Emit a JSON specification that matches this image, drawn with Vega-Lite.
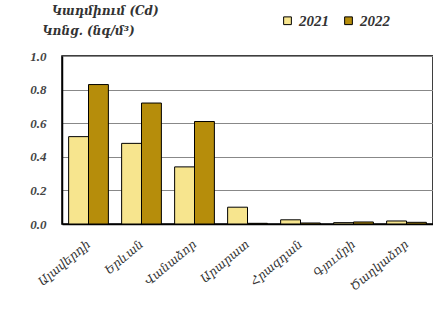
{
  "$schema": "https://vega.github.io/schema/vega-lite/v6.json",
  "width": 371,
  "height": 168,
  "autosize": "none",
  "padding": {"left": 62, "top": 56, "right": 0, "bottom": 85},
  "background": "white",
  "title": {
    "text": "Կադմիում (Cd)",
    "anchor": "start",
    "frame": "group",
    "dx": -10,
    "offset": -5,
    "font": "DejaVu Serif",
    "fontSize": 12,
    "fontStyle": "italic",
    "fontWeight": "bold",
    "color": "#333"
  },
  "data": {
    "values": [
      {"city": "Ալավերդի", "year": "2021", "value": 0.52},
      {"city": "Ալավերդի", "year": "2022", "value": 0.83},
      {"city": "Երևան", "year": "2021", "value": 0.48},
      {"city": "Երևան", "year": "2022", "value": 0.72},
      {"city": "Վանաձոր", "year": "2021", "value": 0.34},
      {"city": "Վանաձոր", "year": "2022", "value": 0.61},
      {"city": "Արարատ", "year": "2021", "value": 0.10},
      {"city": "Արարատ", "year": "2022", "value": 0.004},
      {"city": "Հրազդան", "year": "2021", "value": 0.025},
      {"city": "Հրազդան", "year": "2022", "value": 0.006},
      {"city": "Գյումրի", "year": "2021", "value": 0.008},
      {"city": "Գյումրի", "year": "2022", "value": 0.012},
      {"city": "Ծաղկաձոր", "year": "2021", "value": 0.018},
      {"city": "Ծաղկաձոր", "year": "2022", "value": 0.01}
    ]
  },
  "mark": {"type": "bar", "stroke": "black", "strokeWidth": 1},
  "encoding": {
    "x": {
      "field": "city",
      "type": "nominal",
      "sort": null,
      "scale": {"paddingInner": 0.25, "paddingOuter": 0.125},
      "axis": {
        "title": null,
        "labelAngle": -40,
        "labelAlign": "right",
        "labelBaseline": "middle",
        "labelPadding": 18,
        "labelFont": "DejaVu Serif",
        "labelFontSize": 12,
        "labelFontStyle": "italic",
        "labelColor": "#333",
        "ticks": false,
        "domainColor": "black",
        "domainWidth": 1.5
      }
    },
    "xOffset": {"field": "year", "type": "nominal"},
    "y": {
      "field": "value",
      "type": "quantitative",
      "scale": {"domain": [0, 1]},
      "axis": {
        "title": "Կոնց. (նգ/մ³)",
        "titleAngle": 0,
        "titleAlign": "left",
        "titleBaseline": "bottom",
        "titleX": -20,
        "titleY": -19,
        "titleFont": "DejaVu Serif",
        "titleFontSize": 12,
        "titleFontStyle": "italic",
        "titleFontWeight": "bold",
        "titleColor": "#333",
        "values": [0, 0.2, 0.4, 0.6, 0.8, 1.0],
        "format": ".1f",
        "labelFont": "Liberation Serif",
        "labelFontSize": 13,
        "labelFontStyle": "italic",
        "labelFontWeight": "bold",
        "labelColor": "#444",
        "labelPadding": 16,
        "ticks": false,
        "domainColor": "black",
        "domainWidth": 1.5,
        "grid": true,
        "gridColor": "#888",
        "gridWidth": 1
      }
    },
    "color": {
      "field": "year",
      "type": "nominal",
      "scale": {"domain": ["2021", "2022"], "range": ["#F7E58E", "#B68D0B"]},
      "legend": {
        "title": null,
        "orient": "none",
        "legendX": 218,
        "legendY": -43,
        "direction": "horizontal",
        "symbolType": "square",
        "symbolSize": 60,
        "symbolStrokeColor": "black",
        "symbolStrokeWidth": 1,
        "symbolOpacity": 1,
        "labelFont": "Liberation Serif",
        "labelFontSize": 15,
        "labelFontStyle": "italic",
        "labelFontWeight": "bold",
        "labelColor": "#333",
        "columnPadding": 12
      }
    }
  },
  "config": {
    "view": {"stroke": "black", "strokeWidth": 1.5}
  }
}
